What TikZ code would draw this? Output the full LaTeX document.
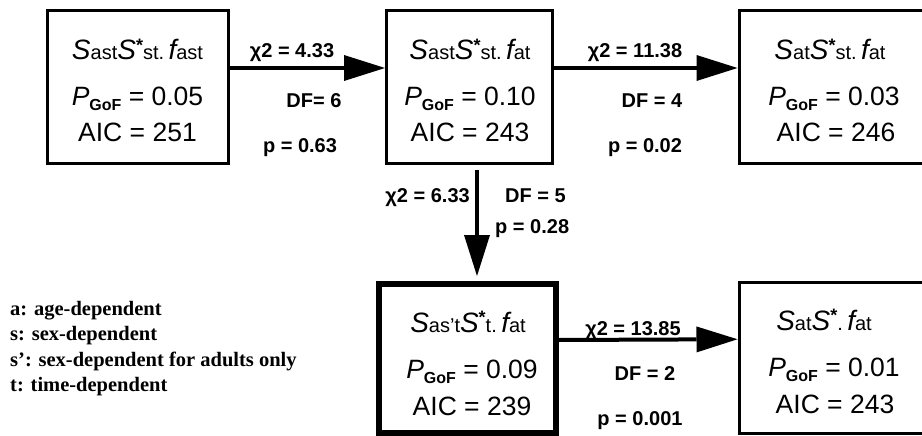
\documentclass[tikz,border=0pt]{standalone}
\usepackage{fontspec}
\setmainfont{Liberation Serif}
\setsansfont{Liberation Sans}
\usetikzlibrary{arrows.meta}
\newcommand\modS{{\fontsize{28}{28}\selectfont\itshape S}}
\newcommand\modF{{\fontsize{28}{28}\selectfont\itshape f}}
\newcommand\modsub[1]{{\fontsize{20}{20}\selectfont #1}}
\newcommand\modstar{\raisebox{9pt}{\fontsize{18}{18}\selectfont\bfseries *}}
\newcommand\pgof{{\itshape P}\raisebox{-5pt}{\fontsize{16}{16}\selectfont\bfseries GoF}}
\begin{document}
\begin{tikzpicture}[x=1pt,y=-1pt,
  box/.style={draw, line width=3pt, inner sep=0pt},
  thickbox/.style={draw, line width=6pt, inner sep=0pt},
  boxtext/.style={font=\sffamily\fontsize{26.5}{30}\selectfont, anchor=base, inner sep=0pt},
  lbl/.style={font=\sffamily\bfseries\fontsize{20}{22}\selectfont, anchor=base, inner sep=0pt},
  legend/.style={font=\rmfamily\bfseries\fontsize{20.5}{25}\selectfont, anchor=base west, inner sep=0pt},
  arr/.style={line width=4pt, -{Triangle[length=41pt,width=26pt,line width=0pt]}}]
\useasboundingbox (0,0) rectangle (922,436);
\clip (0,0) rectangle (922,436);
% boxes
\node[box, minimum width=181pt, minimum height=152pt] (b1) at (137.5,87) {};
\node[box, minimum width=166pt, minimum height=152pt] (b2) at (469.5,87) {};
\node[box, minimum width=185pt, minimum height=152pt] (b3) at (831.5,87) {};
\node[thickbox, minimum width=177.5pt, minimum height=148.5pt] (b4) at (467.25,358.25) {};
\node[box, minimum width=185pt, minimum height=151pt] (b5) at (831.5,357.5) {};
% box texts
\node[boxtext] (t11) at (137.5,60) {\modS\modsub{ast}\modS\modstar\modsub{st.}\,\modF\modsub{ast}};
\node[boxtext] (t12) at (137.5,106) {\pgof\ = 0.05};
\node[boxtext] (t13) at (137.5,142) {AIC = 251};
\node[boxtext] (t21) at (470,60) {\modS\modsub{ast}\modS\modstar\modsub{st.}\,\modF\modsub{at}};
\node[boxtext] (t22) at (470,106) {\pgof\ = 0.10};
\node[boxtext] (t23) at (470,142) {AIC = 243};
\node[boxtext] (t31) at (830,60) {\modS\modsub{at}\modS\modstar\modsub{st.}\,\modF\modsub{at}};
\node[boxtext] (t32) at (834,106) {\pgof\ = 0.03};
\node[boxtext] (t33) at (836,142) {AIC = 246};
\node[boxtext] (t41) at (468,332) {\modS\modsub{as'{}t}\modS\modstar\modsub{t.}\,\modF\modsub{at}};
\node[boxtext] (t42) at (472,378) {\pgof\ = 0.09};
\node[boxtext] (t43) at (472,415) {AIC = 239};
\node[boxtext] (t51) at (824,330) {\modS\modsub{at}\modS\modstar\modsub{.}\,\modF\modsub{at}};
\node[boxtext] (t52) at (834,376) {\pgof\ = 0.01};
\node[boxtext] (t53) at (835,413) {AIC = 243};
% arrows
\draw[arr] ([yshift=19pt]b1.east) -- ([yshift=19pt]b2.west);
\draw[arr] ([yshift=19pt]b2.east) -- ([yshift=19pt]b3.west);
\draw[arr, shorten <=5pt, shorten >=5pt] ([xshift=7.5pt]b2.south) -- ([xshift=7.5pt]b2.south |- b4.north);
\draw[arr] ([yshift=18.25pt]b4.east) -- ([yshift=18.25pt]b5.west);
% labels
\node[lbl] (c1) at (292,58) {χ2 = 4.33};
\node[lbl] (d1) at (314,108) {DF= 6};
\node[lbl] (p1) at (300,153) {p = 0.63};
\node[lbl] (c2) at (635,58) {χ2 = 11.38};
\node[lbl] (d2) at (652,108) {DF = 4};
\node[lbl] (p2) at (645,153) {p = 0.02};
\node[lbl, anchor=base east] (c3) at (470,202) {χ2 = 6.33};
\node[lbl, anchor=base west] (d3) at (505,202) {DF = 5};
\node[lbl, anchor=base west] (p3) at (495,233) {p = 0.28};
\node[lbl] (c4) at (633,335) {χ2 = 13.85};
\node[lbl] (d4) at (645,380) {DF = 2};
\node[lbl] (p4) at (640,425) {p = 0.001};
% legend
\node[legend] (l1) at (10,315) {a: age-dependent};
\node[legend] (l2) at (10,340) {s: sex-dependent};
\node[legend] (l3) at (10,366) {s’: sex-dependent for adults only};
\node[legend] (l4) at (10,391) {t: time-dependent};
\end{tikzpicture}
\end{document}
